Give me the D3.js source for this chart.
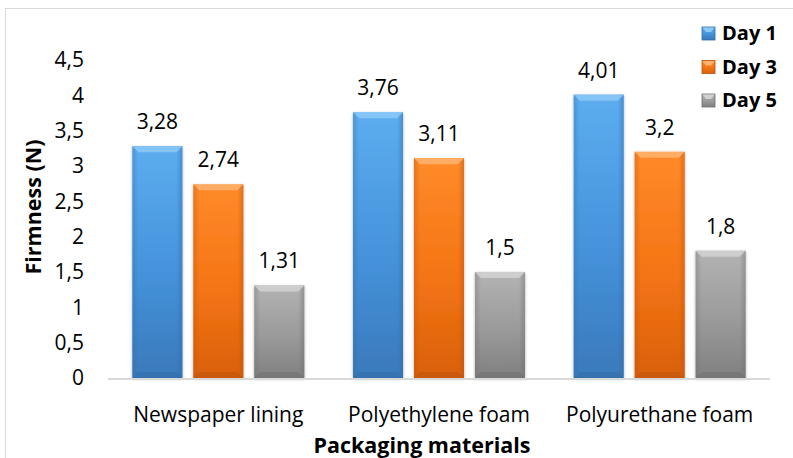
<!DOCTYPE html>
<html>
<head>
<meta charset="utf-8">
<script src="https://cdn.jsdelivr.net/npm/d3@7"></script>
<style>
  html, body { margin: 0; padding: 0; background: #fff; }
  svg { display: block; }
  text { font-family: "Open Sans", "Noto Sans", sans-serif; fill: #000; }
</style>
</head>
<body>
<svg id="chart" width="793" height="458"></svg>
<script>
// Firmness of the samples by packaging material and storage day
const categories = ["Newspaper lining", "Polyethylene foam", "Polyurethane foam"];
const seriesNames = ["Day 1", "Day 3", "Day 5"];
const day1 = [3.28, 3.76, 4.01];
const day3 = [2.74, 3.11, 3.2];
const day5 = [1.31, 1.5, 1.8];
const yTicks = [0, 0.5, 1, 1.5, 2, 2.5, 3, 3.5, 4, 4.5];

const seriesValues = [day1, day3, day5];
const palette = [
  { top: "#5cadf0", mid: "#4592db", bot: "#3a79ba", edge: "#2f6aa6", light: "#8cc8f7" },
  { top: "#ff8a2a", mid: "#f47414", bot: "#d9600c", edge: "#b8520a", light: "#ffb36e" },
  { top: "#b3b3b3", mid: "#9a9a9a", bot: "#808080", edge: "#6d6d6d", light: "#d2d2d2" }
];

const svg = d3.select("#chart");
const W = 793, H = 458;
const x0 = 108, x1 = 770, yBase = 378, yTop = 60;

// frame around the chart area
svg.append("rect")
  .attr("x", 5.5).attr("y", 8.5).attr("width", W).attr("height", H)
  .attr("fill", "none").attr("stroke", "#d9d9d9").attr("stroke-width", 1);

const x = d3.scaleBand().domain(categories).range([x0, x1]).paddingInner(0).paddingOuter(0);
const xs = d3.scaleBand().domain(seriesNames).range([0, x.bandwidth()]).paddingInner(0.18).paddingOuter(0.4);
const y = d3.scaleLinear().domain([0, 4.5]).range([yBase, yTop]);

// gradients per series
const defs = svg.append("defs");
palette.forEach((p, i) => {
  const g = defs.append("linearGradient").attr("id", "grad" + i)
    .attr("x1", 0).attr("y1", 0).attr("x2", 0).attr("y2", 1);
  g.append("stop").attr("offset", "0%").attr("stop-color", p.top);
  g.append("stop").attr("offset", "55%").attr("stop-color", p.mid);
  g.append("stop").attr("offset", "100%").attr("stop-color", p.bot);
  const s = defs.append("linearGradient").attr("id", "side" + i)
    .attr("x1", 0).attr("y1", 0).attr("x2", 1).attr("y2", 0);
  s.append("stop").attr("offset", "0%").attr("stop-color", p.edge).attr("stop-opacity", 0.35);
  s.append("stop").attr("offset", "12%").attr("stop-color", p.edge).attr("stop-opacity", 0);
  s.append("stop").attr("offset", "88%").attr("stop-color", p.edge).attr("stop-opacity", 0);
  s.append("stop").attr("offset", "100%").attr("stop-color", p.edge).attr("stop-opacity", 0.45);
});
const shadow = defs.append("filter").attr("id", "shadow").attr("x", "-20%").attr("y", "-5%").attr("width", "140%").attr("height", "115%");
shadow.append("feGaussianBlur").attr("in", "SourceAlpha").attr("stdDeviation", 1.5);
shadow.append("feOffset").attr("dx", 0).attr("dy", 1).attr("result", "b");
shadow.append("feComponentTransfer").append("feFuncA").attr("type", "linear").attr("slope", 0.35);
const mrg = shadow.append("feMerge");
mrg.append("feMergeNode");
mrg.append("feMergeNode").attr("in", "SourceGraphic");

// y tick labels
svg.append("g").selectAll("text").data(yTicks).join("text")
  .attr("x", 84).attr("y", d => y(d)).attr("dy", "0.35em")
  .attr("text-anchor", "end").attr("font-size", 21)
  .text(d => d3.format(".1~f")(d).replace(".", ","));

// bars
const bars = [];
categories.forEach((c, ci) => {
  seriesNames.forEach((s, si) => {
    bars.push({ c, s, si, v: seriesValues[si][ci] });
  });
});

const bg = svg.append("g").selectAll("g").data(bars).join("g")
  .attr("transform", d => `translate(${x(d.c) + xs(d.s)},0)`);
const bw = xs.bandwidth();
const bev = 6;

bg.append("rect")
  .attr("x", 0).attr("y", d => y(d.v)).attr("width", bw).attr("height", d => yBase - y(d.v))
  .attr("fill", d => `url(#grad${d.si})`).attr("filter", "url(#shadow)");
bg.append("rect")
  .attr("x", 0).attr("y", d => y(d.v)).attr("width", bw).attr("height", d => yBase - y(d.v))
  .attr("fill", d => `url(#side${d.si})`);
// top bevel
bg.append("path")
  .attr("d", d => {
    const t = y(d.v);
    return `M0,${t}L${bw},${t}L${bw - bev},${t + bev}L${bev},${t + bev}Z`;
  })
  .attr("fill", d => palette[d.si].light).attr("opacity", 0.85);
// bottom bevel
bg.append("path")
  .attr("d", d => `M0,${yBase}L${bw},${yBase}L${bw - bev},${yBase - bev}L${bev},${yBase - bev}Z`)
  .attr("fill", d => palette[d.si].edge).attr("opacity", 0.45);

// value labels
bg.append("text")
  .attr("x", bw / 2).attr("y", d => y(d.v) - 17)
  .attr("text-anchor", "middle").attr("font-size", 21)
  .text(d => String(d.v).replace(".", ","));

// x axis line
svg.append("line")
  .attr("x1", x0).attr("x2", x1).attr("y1", yBase + 1).attr("y2", yBase + 1)
  .attr("stroke", "#d9d9d9").attr("stroke-width", 2);

// category labels
svg.append("g").selectAll("text").data(categories).join("text")
  .attr("x", d => x(d) + x.bandwidth() / 2).attr("y", 422)
  .attr("text-anchor", "middle").attr("font-size", 21)
  .text(d => d);

// axis titles
svg.append("text")
  .attr("x", 422).attr("y", 453).attr("text-anchor", "middle")
  .attr("font-size", 21.5).attr("font-weight", "bold")
  .text("Packaging materials");
svg.append("text")
  .attr("transform", "translate(41,207) rotate(-90)").attr("text-anchor", "middle")
  .attr("font-size", 21.5).attr("font-weight", "bold")
  .text("Firmness (N)");

// legend
const lg = svg.append("g").selectAll("g").data(seriesNames).join("g")
  .attr("transform", (d, i) => `translate(702,${33 + i * 33.5})`);
lg.append("rect").attr("x", 0).attr("y", -6).attr("width", 13).attr("height", 13)
  .attr("fill", (d, i) => `url(#grad${i})`).attr("stroke", (d, i) => palette[i].edge).attr("stroke-width", 0.8);
lg.append("path").attr("d", "M0.5,-5.5L12.5,-5.5L9,-1L4,-1Z").attr("fill", (d, i) => palette[i].light);
lg.append("text").attr("x", 20).attr("y", 0).attr("dy", "0.35em")
  .attr("font-size", 20).attr("font-weight", "bold").text(d => d);
</script>
</body>
</html>
